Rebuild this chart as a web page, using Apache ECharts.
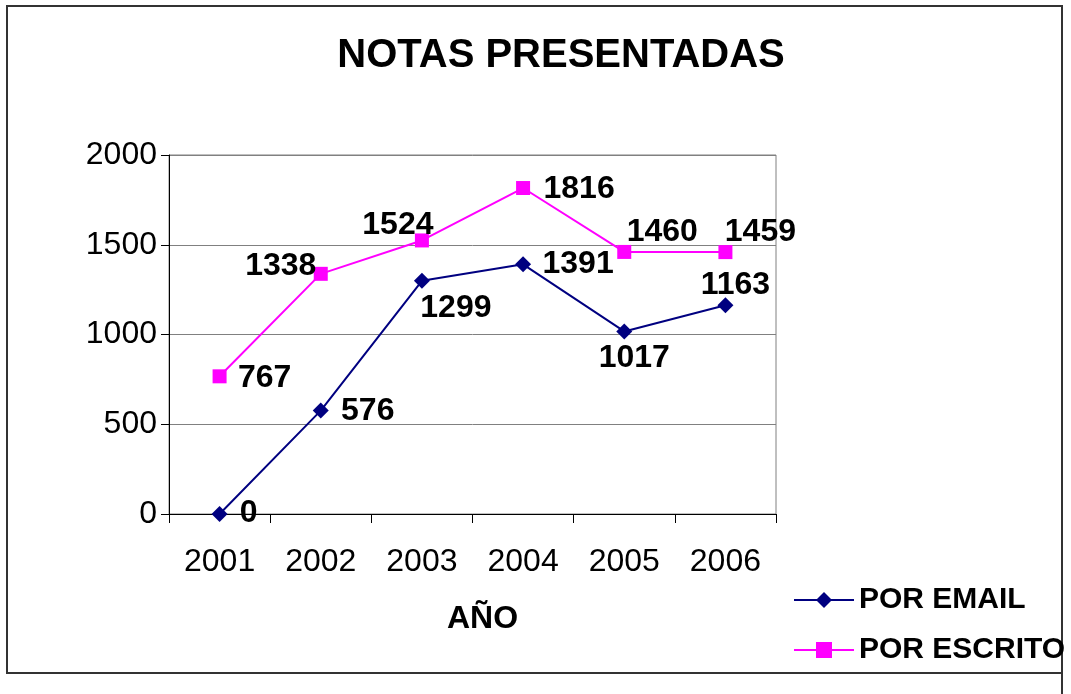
<!DOCTYPE html>
<html>
<head>
<meta charset="utf-8">
<script src="https://cdn.jsdelivr.net/npm/echarts@6/dist/echarts.min.js"></script>
<style>
  html, body { margin: 0; padding: 0; background: #fff; }
  #chart { width: 1071px; height: 694px; }
</style>
</head>
<body>
<div id="chart"></div>
<script>
// ---- data ----
const categories = ['2001', '2002', '2003', '2004', '2005', '2006'];
const porEmail   = [0, 576, 1299, 1391, 1017, 1163];
const porEscrito = [767, 1338, 1524, 1816, 1460, 1459];
const yTicks     = [0, 500, 1000, 1500, 2000];

// ---- label placement (style only) ----
const emailLabelOffsets   = [[29, -1], [47, 1], [34, 27], [55, 0], [10, 27], [10, -20]];
const escritoLabelOffsets = [[45, 2], [-40, -8], [-24, -15], [56, 1], [38, -20], [35, -20]];

const FONT = 'Liberation Sans';

function buildData(values, offsets) {
  return values.map((v, i) => ({
    value: v,
    label: { offset: offsets[i] }
  }));
}

const labelStyle = {
  show: true,
  position: 'inside',
  color: '#000',
  fontFamily: FONT,
  fontWeight: 'bold',
  fontSize: 32
};

const chart = echarts.init(document.getElementById('chart'), null, { renderer: 'canvas' });
chart.setOption({
  animation: false,
  backgroundColor: '#fff',
  title: {
    text: 'NOTAS PRESENTADAS',
    left: 561,
    top: 36,
    textAlign: 'center',
    padding: 0,
    textStyle: { fontFamily: FONT, fontWeight: 'bold', fontSize: 40, color: '#000' }
  },
  graphic: [
    {
      type: 'rect',
      shape: { x: 7, y: 6, width: 1055, height: 667 },
      style: { fill: 'none', stroke: '#333', lineWidth: 2 },
      silent: true
    },
    {
      type: 'line',
      shape: { x1: 1062, y1: 673, x2: 1062, y2: 694 },
      style: { stroke: '#333', lineWidth: 2 },
      silent: true
    }
  ],
  grid: {
    left: 169, top: 155, right: 295, bottom: 180,
    show: true, borderColor: '#808080', borderWidth: 1, backgroundColor: 'transparent'
  },
  legend: {
    orient: 'vertical',
    left: 793,
    top: 585,
    padding: 0,
    itemWidth: 60,
    itemHeight: 20,
    itemGap: 20,
    textStyle: { fontFamily: FONT, fontWeight: 'bold', fontSize: 30, color: '#000' },
    data: ['POR EMAIL', 'POR ESCRITO']
  },
  xAxis: {
    type: 'category',
    data: categories,
    boundaryGap: true,
    name: 'AÑO',
    nameLocation: 'middle',
    nameGap: 89,
    nameTextStyle: { fontFamily: FONT, fontWeight: 'bold', fontSize: 32, color: '#000', padding: [0, 0, 0, 20] },
    axisLine: { show: true, lineStyle: { color: '#000', width: 1 } },
    axisTick: { show: true, length: 9, alignWithLabel: false, lineStyle: { color: '#000' } },
    axisLabel: { fontFamily: FONT, fontSize: 32, color: '#000', margin: 32 },
    splitLine: { show: false }
  },
  yAxis: {
    type: 'value',
    min: yTicks[0],
    max: yTicks[yTicks.length - 1],
    interval: yTicks[1] - yTicks[0],
    axisLine: { show: true, lineStyle: { color: '#000', width: 1 } },
    axisTick: { show: true, length: 8, lineStyle: { color: '#000' } },
    axisLabel: { fontFamily: FONT, fontSize: 32, color: '#000', margin: 12, formatter: v => String(v) },
    splitLine: { show: true, lineStyle: { color: '#808080', width: 1 } }
  },
  series: [
    {
      name: 'POR EMAIL',
      type: 'line',
      data: buildData(porEmail, emailLabelOffsets),
      symbol: 'diamond',
      symbolSize: 16,
      color: '#000080',
      itemStyle: { color: '#000080' },
      lineStyle: { color: '#000080', width: 2 },
      label: labelStyle,
      z: 3
    },
    {
      name: 'POR ESCRITO',
      type: 'line',
      data: buildData(porEscrito, escritoLabelOffsets),
      symbol: 'rect',
      symbolSize: 14,
      color: '#FF00FF',
      itemStyle: { color: '#FF00FF' },
      lineStyle: { color: '#FF00FF', width: 2 },
      label: labelStyle,
      z: 4
    }
  ]
});
</script>
</body>
</html>
